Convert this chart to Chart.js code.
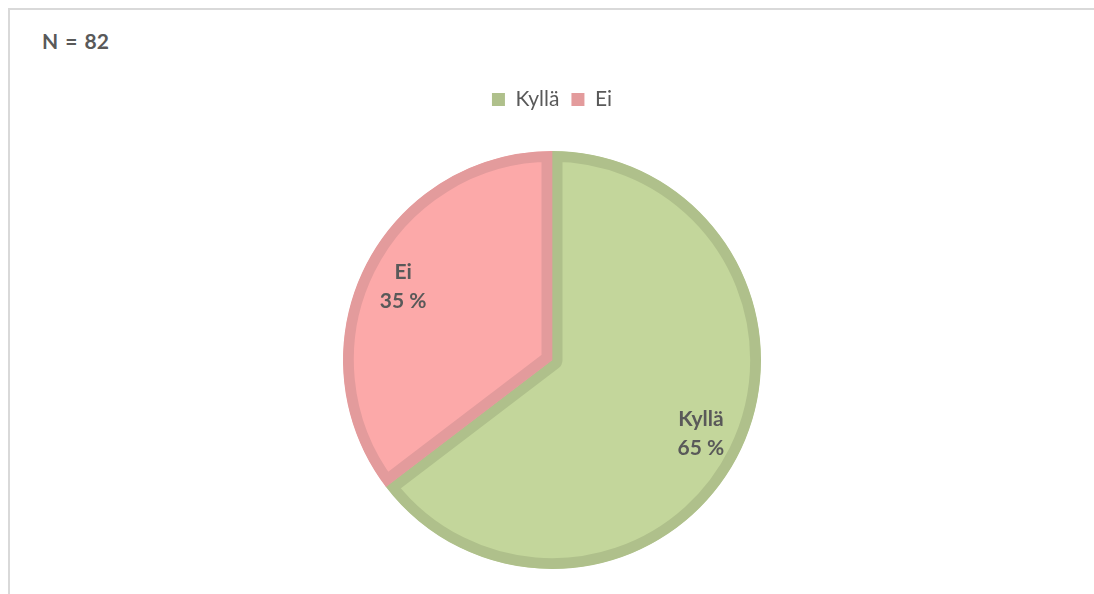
<!DOCTYPE html>
<html>
<head>
<meta charset="utf-8">
<script src="https://cdn.jsdelivr.net/npm/chart.js@4/dist/chart.umd.min.js"></script>
<style>
  html, body { margin: 0; padding: 0; background: #fff; }
  #wrap { position: relative; width: 1094px; height: 594px; overflow: hidden; }
  #frame { position: absolute; left: 8px; top: 8px; right: 0; bottom: -10px;
           border-top: 2px solid #D9D9D9; border-left: 2px solid #D9D9D9; }
  #title { position: absolute; left: 42px; top: 28px; font: bold 21px Lato, "Open Sans", sans-serif; color: #595959; word-spacing: 2px; }
  canvas { position: absolute; left: 0; top: 0; }
</style>
</head>
<body>
<div id="wrap">
  <div id="frame"></div>
  <div id="title">N = 82</div>
  <canvas id="c" width="1094" height="602"></canvas>
</div>
<script>
const categories = ['Kyllä', 'Ei'];
const counts = [53, 29];
const fillColors = ['#C3D69B', '#FCA9A9'];
const borderColors = ['#AFC08B', '#E39B9C'];

const labelPlugin = {
  id: 'sliceLabels',
  afterDatasetsDraw(chart) {
    const ctx = chart.ctx;
    const meta = chart.getDatasetMeta(0);
    const data = chart.data.datasets[0].data;
    const total = data.reduce((a, b) => a + b, 0);
    ctx.save();
    ctx.fillStyle = '#595959';
    ctx.font = 'bold 21px Lato, "Open Sans", sans-serif';
    ctx.textAlign = 'center';
    ctx.textBaseline = 'middle';
    meta.data.forEach((arc, i) => {
      const p = arc.getProps(['x', 'y', 'startAngle', 'endAngle', 'outerRadius'], true);
      const mid = (p.startAngle + p.endAngle) / 2;
      const r = p.outerRadius * 0.795;
      const x = p.x + Math.cos(mid) * r;
      const y = p.y + Math.sin(mid) * r;
      const pct = Math.round(data[i] / total * 100);
      ctx.fillText(chart.data.labels[i], x, y - 14);
      ctx.fillText(pct + ' %', x, y + 15);
    });
    ctx.restore();
  }
};

new Chart(document.getElementById('c'), {
  type: 'pie',
  data: {
    labels: categories,
    datasets: [{
      data: counts,
      backgroundColor: fillColors,
      borderColor: borderColors,
      borderWidth: 10.5,
      borderAlign: 'inner',
      hoverOffset: 0
    }]
  },
  options: {
    responsive: false,
    animation: false,
    radius: 209,
    layout: { padding: { top: 77, bottom: 2, left: 10, right: 0 } },
    plugins: {
      title: { display: false },
      tooltip: { enabled: false },
      legend: {
        position: 'top',
        labels: {
          color: '#595959',
          font: { family: 'Lato, "Open Sans", sans-serif', size: 21 },
          boxWidth: 13,
          boxHeight: 13,
          padding: 12,
          generateLabels(chart) {
            const items = Chart.overrides.pie.plugins.legend.labels.generateLabels(chart);
            items.forEach((it, i) => {
              it.fillStyle = borderColors[i];
              it.strokeStyle = borderColors[i];
              it.lineWidth = 0;
            });
            return items;
          }
        }
      }
    }
  },
  plugins: [labelPlugin]
});
</script>
</body>
</html>
